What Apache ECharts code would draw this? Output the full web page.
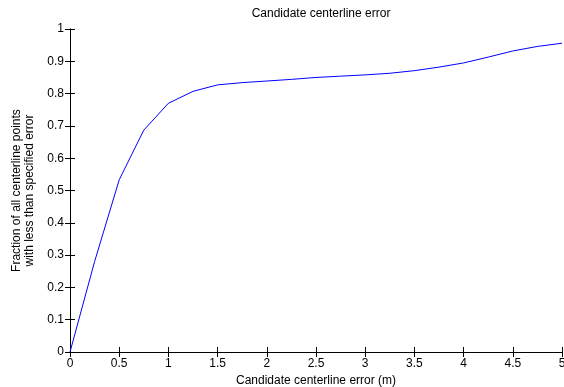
<!DOCTYPE html>
<html>
<head>
<meta charset="utf-8">
<script src="https://cdn.jsdelivr.net/npm/echarts@6/dist/echarts.min.js"></script>
<style>
  html, body { margin: 0; padding: 0; background: #fff; }
  #main { width: 564px; height: 387px; }
</style>
</head>
<body>
<div id="main"></div>
<script>
// error thresholds (m) and fraction of centerline points below them
var errs = [0, 0.25, 0.5, 0.75, 1, 1.25, 1.5, 1.75, 2, 2.25, 2.5, 2.75, 3, 3.25, 3.5, 3.75, 4, 4.25, 4.5, 4.75, 5];
var frac = [0, 0.28, 0.533, 0.687, 0.770, 0.807, 0.827, 0.834, 0.839, 0.844, 0.850, 0.854, 0.858, 0.863, 0.871, 0.882, 0.895, 0.913, 0.932, 0.946, 0.956];

var pts = [];
for (var i = 0; i < errs.length; i++) {
    pts.push([errs[i], frac[i]]);
}

var font = 'Liberation Sans, Arial, sans-serif';
var myChart = echarts.init(document.getElementById('main'));

var boxAxis = {
    axisLine: { show: true, lineStyle: { color: '#000', width: 1 } },
    axisTick: { show: true, inside: true, length: 5, lineStyle: { color: '#000' } },
    splitLine: { show: false }
};

var option = {
    animation: false,
    title: {
        text: 'Candidate centerline error',
        left: 316,
        textAlign: 'center',
        top: 3,
        textStyle: { fontFamily: font, fontSize: 12, fontWeight: 'normal', color: '#000' }
    },
    grid: { left: 70, right: 2, top: 29, bottom: 35, outerBoundsMode: 'none' },
    xAxis: [
        Object.assign({
            type: 'value', min: 0, max: 5, interval: 0.5,
            name: 'Candidate centerline error (m)',
            nameLocation: 'middle', nameGap: 21,
            nameTextStyle: { fontFamily: font, fontSize: 12, color: '#000' },
            axisLabel: { fontFamily: font, fontSize: 12, color: '#000', margin: 6 }
        }, boxAxis),
        Object.assign({
            type: 'value', min: 0, max: 5, interval: 0.5, position: 'top',
            axisLabel: { show: false }
        }, boxAxis)
    ],
    yAxis: [
        Object.assign({
            type: 'value', min: 0, max: 1, interval: 0.1,
            name: 'Fraction of all centerline points\nwith less than specified error',
            nameLocation: 'middle', nameGap: 33,
            nameTextStyle: { fontFamily: font, fontSize: 12, color: '#000', lineHeight: 13 },
            axisLabel: {
                fontFamily: font, fontSize: 12, color: '#000', margin: 6,
                formatter: function (v) { return String(Math.round(v * 10) / 10); }
            }
        }, boxAxis),
        Object.assign({
            type: 'value', min: 0, max: 1, interval: 0.1, position: 'right',
            axisLabel: { show: false }
        }, boxAxis)
    ],
    series: [
        {
            type: 'line',
            data: pts,
            showSymbol: false,
            lineStyle: { color: '#0000ff', width: 1 },
            itemStyle: { color: '#0000ff' }
        }
    ]
};

myChart.setOption(option);
</script>
</body>
</html>
